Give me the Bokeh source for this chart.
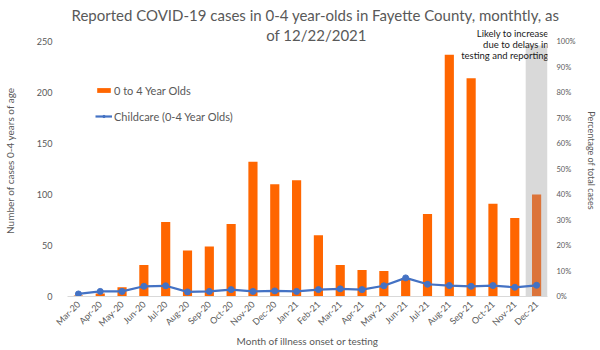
from bokeh.plotting import figure
from bokeh.models import (Range1d, LinearAxis, FixedTicker, PrintfTickFormatter,
                          BoxAnnotation, Label, Legend, LegendItem, FactorRange)
from bokeh.embed import file_html
from bokeh.resources import INLINE
import math

months = ["Mar-20", "Apr-20", "May-20", "Jun-20", "Jul-20", "Aug-20", "Sep-20",
          "Oct-20", "Nov-20", "Dec-20", "Jan-21", "Feb-21", "Mar-21", "Apr-21",
          "May-21", "Jun-21", "Jul-21", "Aug-21", "Sep-21", "Oct-21", "Nov-21", "Dec-21"]
cases = [1, 3, 9, 31, 73, 45, 49, 71, 132, 110, 114, 60, 31, 26, 25, 18,
         81, 237, 214, 91, 77, 100]
childcare_pct = [1.0, 2.0, 2.0, 4.0, 4.2, 1.8, 2.0, 2.7, 2.0, 2.2, 2.0, 2.7,
                 3.0, 2.7, 4.2, 7.3, 4.8, 4.3, 4.0, 4.3, 3.6, 4.4]
pct_ticks = [0, 10, 20, 30, 40, 50, 60, 70, 80, 90, 100]
left_ticks = [0, 50, 100, 150, 200, 250]

FONT = "Lato"
GREY_TXT = "#595959"

bar_colors = ["#FF6600"] * (len(months) - 1) + ["#DC743A"]

# frame: left 64, right 547, top 24, bottom 296 (250 -> y=41)
FL, FB = 64, 296
p = figure(width=600, height=350, x_range=FactorRange(*months, range_padding=0),
           y_range=Range1d(0, 272 / 1.02), output_backend="svg", toolbar_location=None,
           min_border_left=64, min_border_right=53, min_border_top=24,
           min_border_bottom=54)
p.outline_line_color = None
p.xgrid.grid_line_color = None
p.ygrid.grid_line_color = None
p.background_fill_color = "white"
p.border_fill_color = "white"

p.extra_y_ranges = {"pct": Range1d(0, 272 / 2.55)}

p.title.text = "Reported COVID-19 cases in 0-4 year-olds in Fayette County, monthtly, as"
p.title.align = "left"
p.title.offset = 4
p.title.text_font = FONT
p.title.text_font_size = "15px"
p.title.text_font_style = "normal"
p.title.text_color = GREY_TXT
p.title.standoff = 2

# highlight of last (incomplete) month
p.add_layout(BoxAnnotation(left=21, right=22, top=246, fill_color="#D9D9D9", fill_alpha=1.0,
                           line_color=None, level="underlay"))

bars = p.vbar(x=months, top=cases, width=0.42, fill_color=bar_colors, line_color=None)
line_r = p.line(months, childcare_pct, y_range_name="pct", line_color="#4472C4",
                line_width=2.2)
pts_r = p.scatter(months, childcare_pct, y_range_name="pct", size=6,
                  fill_color="#4472C4", line_color="#4472C4")

# axes
xa = p.xaxis[0]
xa.axis_line_color = "#D9D9D9"
xa.major_tick_line_color = None
xa.minor_tick_line_color = None
xa.major_label_orientation = math.pi / 4
xa.major_label_text_font = FONT
xa.major_label_text_font_size = "9px"
xa.major_label_text_color = GREY_TXT
xa.major_label_standoff = 0
xa.axis_label = "Month of illness onset or testing"
xa.axis_label_text_font = FONT
xa.axis_label_text_font_size = "10px"
xa.axis_label_text_font_style = "normal"
xa.axis_label_text_color = GREY_TXT
xa.axis_label_standoff = 0

ya = p.yaxis[0]
ya.ticker = FixedTicker(ticks=left_ticks)
ya.axis_line_color = None
ya.major_tick_line_color = None
ya.minor_tick_line_color = None
ya.major_label_text_font = FONT
ya.major_label_text_font_size = "9px"
ya.major_label_text_color = GREY_TXT
ya.major_label_standoff = 9
ya.axis_label = "Number of cases 0-4 years of age"
ya.axis_label_text_font = FONT
ya.axis_label_text_font_size = "10px"
ya.axis_label_text_font_style = "normal"
ya.axis_label_text_color = GREY_TXT
ya.axis_label_standoff = 18

ra = LinearAxis(y_range_name="pct", ticker=FixedTicker(ticks=pct_ticks),
                formatter=PrintfTickFormatter(format="%d%%"))
ra.axis_line_color = None
ra.major_tick_line_color = None
ra.minor_tick_line_color = None
ra.major_label_text_font = FONT
ra.major_label_text_font_size = "7.5px"
ra.major_label_text_color = GREY_TXT
ra.major_label_standoff = 3
ra.axis_label = "Percentage of total cases"
ra.axis_label_text_font = FONT
ra.axis_label_text_font_size = "9px"
ra.axis_label_text_font_style = "normal"
ra.axis_label_text_color = GREY_TXT
ra.axis_label_standoff = 7
p.add_layout(ra, "right")

# legend
legend = Legend(items=[LegendItem(label="0 to 4 Year Olds", renderers=[bars]),
                       LegendItem(label="Childcare (0-4 Year Olds)", renderers=[line_r, pts_r])],
                location=(28, 173), glyph_width=17, glyph_height=6, label_height=14,
                spacing=12, padding=0, margin=0, label_standoff=2,
                label_text_font=FONT, label_text_font_size="11px",
                label_text_color=GREY_TXT, background_fill_alpha=0,
                border_line_color=None)
p.add_layout(legend, "center")

# second title line
p.add_layout(Label(x=313 - FL, y=FB - 34, x_units="screen", y_units="screen",
                   text="of 12/22/2021",
                   text_align="center", text_baseline="middle", text_font=FONT,
                   text_font_size="15px", text_color=GREY_TXT))

# annotation for last month
for txt, yy in [("Likely to increase", 33), ("due to delays in", 44),
                ("testing and reporting", 55)]:
    p.add_layout(Label(x=545 - FL, y=FB - yy, x_units="screen", y_units="screen",
                       text=txt, text_align="right", text_baseline="middle",
                       text_font=FONT, text_font_size="9.5px", text_color="#1a1a1a"))

open("out.html", "w").write(file_html(p, INLINE))
